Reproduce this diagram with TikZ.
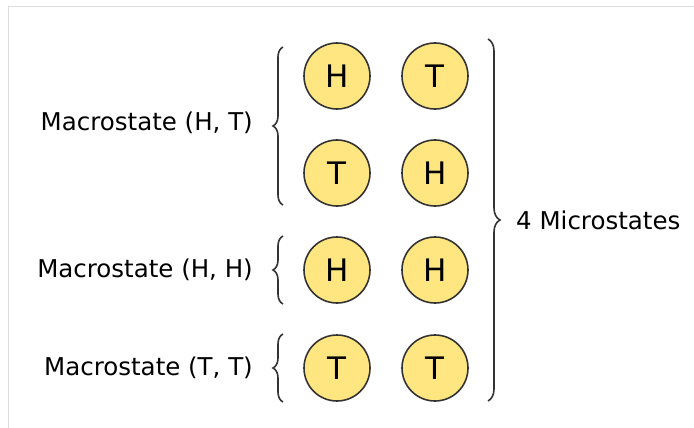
\documentclass[tikz,border=0pt]{standalone}
\usepackage{fontspec}
\setmainfont{DejaVu Sans}
\usepackage{tikz}
\usetikzlibrary{decorations.pathreplacing}

\definecolor{coinfill}{HTML}{FFE680}
\definecolor{coinline}{HTML}{333333}
\definecolor{framegray}{HTML}{DDDDDD}

\tikzset{
  coin/.style={circle, draw=coinline, line width=1.6pt, fill=coinfill,
    minimum size=66pt, inner sep=0pt, font=\fontsize{31}{36}\selectfont},
  macro/.style={anchor=east, inner sep=0pt, font=\fontsize{24.5}{29}\selectfont},
  lbrace/.style={decorate, decoration={brace, amplitude=10pt}, line width=1.6pt, draw=coinline},
  rbrace/.style={decorate, decoration={brace, amplitude=12pt}, line width=1.6pt, draw=coinline}
}

\begin{document}
\begin{tikzpicture}[x=1pt, y=-1pt]
		\useasboundingbox (0, 0) rectangle (694, 428);
		\draw [framegray, line width=1pt] (8, 428) -- (8, 7) -- (694, 7);

		% coins
		\node[coin] (c11) at (337, 76) {H};
		\node[coin] (c12) at (435, 76) {T};
		\node[coin] (c21) at (337, 173) {T};
		\node[coin] (c22) at (435, 173) {H};
		\node[coin] (c31) at (337, 270) {H};
		\node[coin] (c32) at (435, 270) {H};
		\node[coin] (c41) at (337, 368) {T};
		\node[coin] (c42) at (435, 368) {T};

		% labels
		\node[macro] (ht) at (253, 123) {Macrostate (H, T)};
		\node[macro] (hh) at (253, 270) {Macrostate (H, H)};
		\node[macro] (tt) at (253, 368) {Macrostate (T, T)};
		\node[anchor=west, inner sep=0pt, font=\fontsize{24.5}{29}\selectfont] (micro) at (516, 220) {4 Microstates};

		% brace ends
		\coordinate (ht-top) at (283, 47);
		\coordinate (ht-bot) at (283, 205);
		\coordinate (hh-top) at (283, 236);
		\coordinate (hh-bot) at (283, 304);
		\coordinate (tt-top) at (283, 334);
		\coordinate (tt-bot) at (283, 402);
		\coordinate (all-top) at (488, 39);
		\coordinate (all-bot) at (488, 401);

		\draw [lbrace] (ht-bot) to (ht-top);
		\draw [lbrace] (hh-bot) to (hh-top);
		\draw [lbrace] (tt-bot) to (tt-top);
		\draw [rbrace] (all-top) to (all-bot);
\end{tikzpicture}
\end{document}
